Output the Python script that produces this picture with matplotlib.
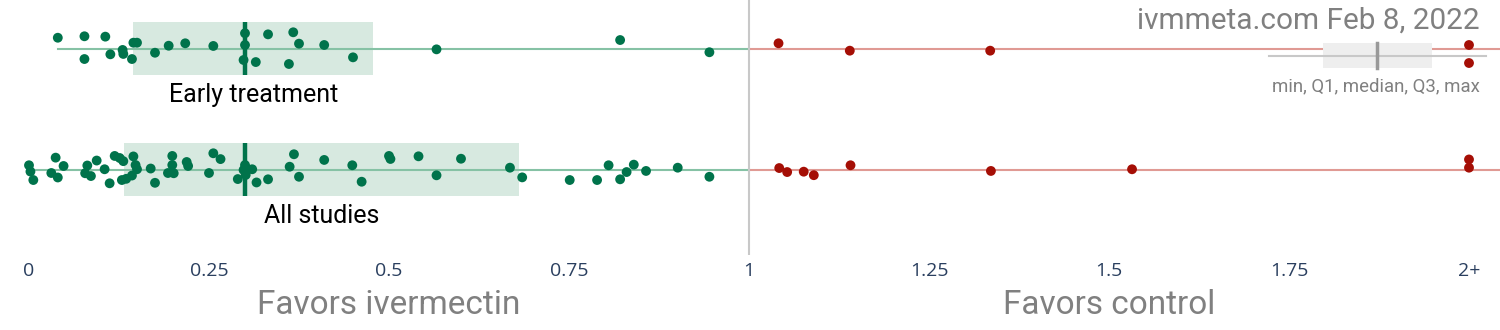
import matplotlib.pyplot as plt
from matplotlib.lines import Line2D
from matplotlib.patches import Rectangle
from matplotlib.transforms import blended_transform_factory

# rows of the chart
row_labels = ["Early treatment", "All studies"]

# study results (relative risk), values above 2 shown at "2+"
early_values = [0.040, 0.077, 0.106, 0.077, 0.113, 0.130, 0.131, 0.143, 0.145, 0.150,
                0.175, 0.194, 0.217, 0.256, 0.300, 0.300, 0.298, 0.315, 0.332, 0.367,
                0.375, 0.361, 0.410, 0.450, 0.566, 0.821, 0.945, 1.041, 1.140, 1.335,
                2.0, 2.0]
early_jitter = [-0.089, -0.101, -0.098, 0.087, 0.048, 0.012, 0.045, 0.087, -0.048, -0.048,
                0.035, -0.023, -0.043, -0.021, -0.126, -0.029, 0.095, 0.112, -0.117, -0.134,
                -0.040, 0.128, -0.029, 0.073, 0.007, -0.070, 0.031, -0.043, 0.018, 0.018,
                -0.029, 0.120]

all_values = [0.000, 0.002, 0.006, 0.037, 0.031, 0.040, 0.048, 0.081, 0.078, 0.086,
              0.094, 0.105, 0.112, 0.119, 0.126, 0.131, 0.145, 0.148, 0.150, 0.143,
              0.135, 0.129, 0.169, 0.175, 0.199, 0.199, 0.193, 0.201, 0.219, 0.221,
              0.250, 0.256, 0.266, 0.300, 0.298, 0.304, 0.310, 0.290, 0.301, 0.316,
              0.332, 0.368, 0.362, 0.375, 0.410, 0.449, 0.462, 0.500, 0.502, 0.541,
              0.600, 0.566, 0.668, 0.685, 0.751, 0.789, 0.805, 0.821, 0.830, 0.840,
              0.857, 0.901, 0.945, 1.042, 1.053, 1.076, 1.090, 1.141, 1.336, 1.532,
              2.0, 2.0]
all_jitter = [-0.035, 0.017, 0.087, -0.098, 0.029, 0.066, -0.029, -0.033, 0.031, 0.054,
              -0.074, -0.002, 0.114, -0.112, -0.095, -0.069, -0.108, -0.037, -0.002, 0.050,
              0.077, 0.087, -0.008, 0.110, -0.112, -0.037, 0.029, 0.031, -0.062, -0.029,
              0.029, -0.134, -0.086, -0.037, 0.004, -0.002, -0.002, 0.079, 0.045, 0.107,
              0.081, -0.126, -0.023, 0.060, -0.079, -0.035, 0.101, -0.112, -0.087, -0.109,
              -0.089, 0.048, -0.015, 0.065, 0.087, 0.087, -0.035, 0.081, 0.021, -0.040,
              0.012, -0.015, 0.060, -0.012, 0.021, 0.018, 0.047, -0.035, 0.012, -0.002,
              -0.083, -0.015]

# box summary per row
box_min = [0.040, 0.000]
box_q1 = [0.145, 0.132]
box_median = [0.300, 0.300]
box_q3 = [0.478, 0.680]

tick_values = [0, 0.25, 0.5, 0.75, 1, 1.25, 1.5, 1.75, 2]
tick_labels = ["0", "0.25", "0.5", "0.75", "1", "1.25", "1.5", "1.75", "2+"]

GREEN = "#00734b"
GREEN_LINE = "#86c2a5"
GREEN_BOX = "#d7e9e0"
RED = "#a50e05"
RED_LINE = "#e09a94"
GRAY = "#808080"

W, H = 1500, 330
fig = plt.figure(figsize=(W / 100, H / 100), dpi=100)
ax = fig.add_axes([0, 75 / H, 1, 255 / H])
ax.set_xlim(-29 / 720, 1471 / 720)
ax.set_ylim(206.5 / 121, -48.5 / 121)
for s in ax.spines.values():
    s.set_visible(False)
ax.set_yticks([])
ax.set_xticks(tick_values)
ax.set_xticklabels(tick_labels, family="Open Sans")
ax.tick_params(axis="x", length=0, pad=5, labelsize=14, labelcolor="#2a3f5f")

series = [(early_values, early_jitter), (all_values, all_jitter)]
box_h = 0.44
right = ax.get_xlim()[1]

for i, (vals, jit) in enumerate(series):
    ax.add_patch(Rectangle((box_q1[i], i - box_h / 2), box_q3[i] - box_q1[i], box_h,
                           facecolor=GREEN_BOX, edgecolor="none", zorder=1))
    ax.plot([box_min[i], 1], [i, i], color=GREEN_LINE, lw=1.5, zorder=2)
    ax.plot([1, right], [i, i], color=RED_LINE, lw=1.5, zorder=2)
    ax.plot([box_median[i], box_median[i]], [i - box_h / 2, i + box_h / 2],
            color=GREEN, lw=3.2, zorder=3, solid_capstyle="butt")
    cols = [GREEN if v < 1 else RED for v in vals]
    ax.scatter(vals, [i + j for j in jit], s=50, c=cols, edgecolors="none", zorder=4)
    ax.text((box_q1[i] + box_q3[i]) / 2, i + 0.384, row_labels[i], ha="center", va="center",
            fontsize=18, family="Roboto", color="black")

ax.axvline(1, color="#c8c8c8", lw=1.5, zorder=2.5)

# bottom captions
tr = blended_transform_factory(ax.transData, fig.transFigure)
ax.text(0.5, 1 - 305 / H, "Favors ivermectin", transform=tr, ha="center", va="center",
        fontsize=24, family="Roboto", color=GRAY)
ax.text(1.5, 1 - 305 / H, "Favors control", transform=tr, ha="center", va="center",
        fontsize=24, family="Roboto", color=GRAY)

# title and legend
fig.text(1480 / W, 1 - 21 / H, "ivmmeta.com Feb 8, 2022", ha="right", va="center",
         fontsize=21.4, family="Roboto", color=GRAY)
fig.add_artist(Rectangle((1323 / W, 1 - 68 / H), 109 / W, 25 / H, transform=fig.transFigure,
                         facecolor="#eeeeee", edgecolor="none"))
fig.add_artist(Line2D([1269 / W, 1486 / W], [1 - 55.5 / H, 1 - 55.5 / H],
                      transform=fig.transFigure, color="#c8c8c8", lw=1.5))
fig.add_artist(Line2D([1377 / W, 1377 / W], [1 - 43 / H, 1 - 68 / H],
                      transform=fig.transFigure, color="#999999", lw=2.5))
fig.text(1480 / W, 1 - 86 / H, "min, Q1, median, Q3, max", ha="right", va="center",
         fontsize=13.4, family="Roboto", color=GRAY)

fig.savefig("out.png", dpi=100, facecolor="white")
